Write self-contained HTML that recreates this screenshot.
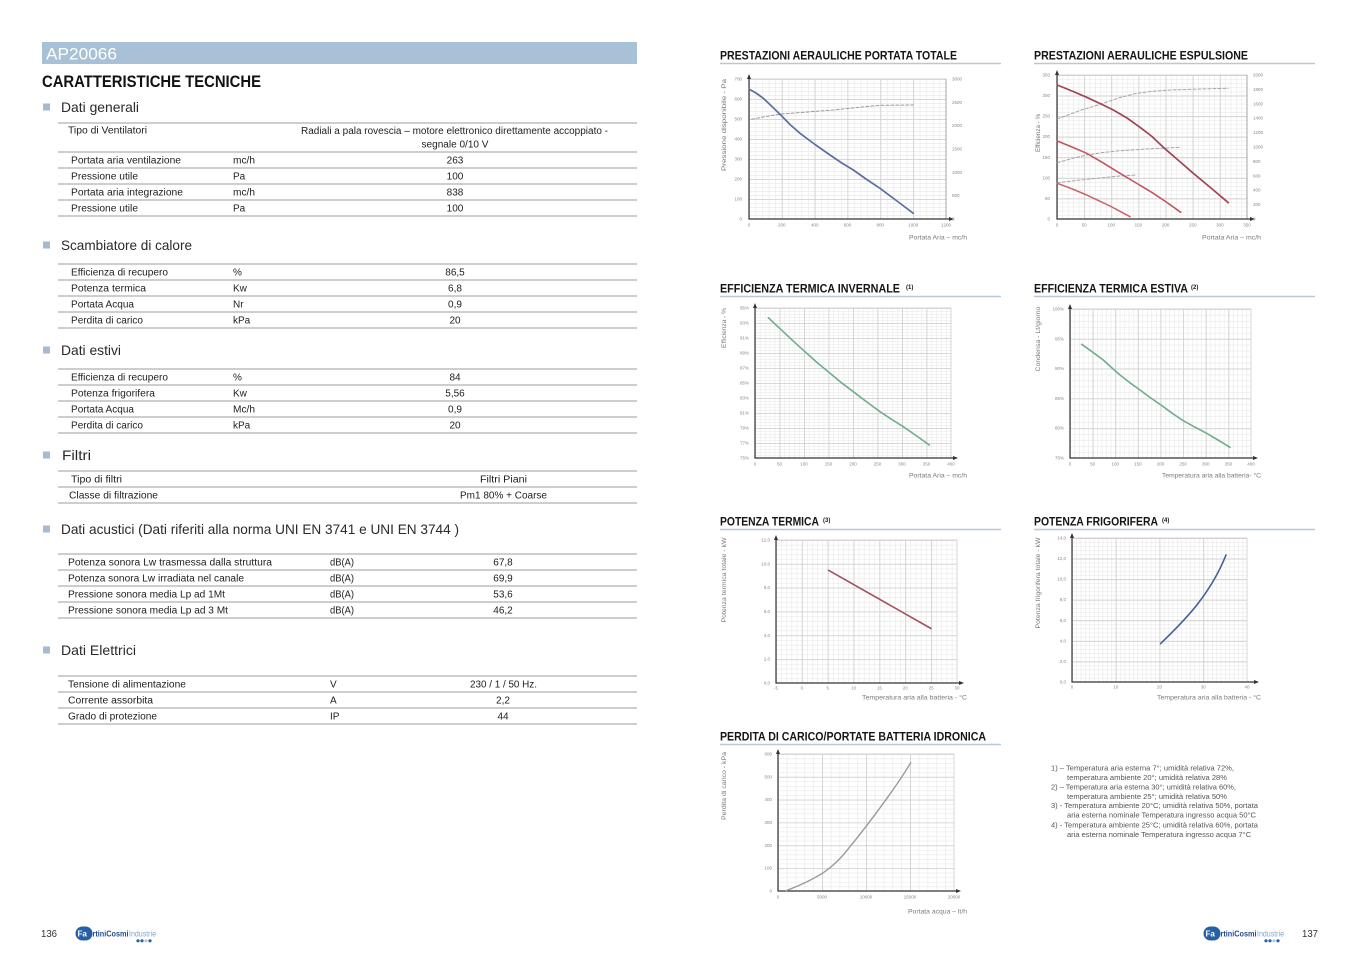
<!DOCTYPE html>
<html><head><meta charset="utf-8"><style>html,body{margin:0;padding:0;background:#fff}svg{display:block}</style></head><body>
<svg xmlns="http://www.w3.org/2000/svg" width="1356" height="959" viewBox="0 0 1356 959" font-family="'Liberation Sans', sans-serif">
<defs>
<pattern id="m1" x="749" y="79" width="6.567" height="4" patternUnits="userSpaceOnUse"><path d="M0.3 0V4M0 0.3H6.567" stroke="#e8e8e8" stroke-width="0.6" fill="none"/></pattern>
<pattern id="M1" x="749" y="79" width="32.83" height="20" patternUnits="userSpaceOnUse"><path d="M0.4 0V20M0 0.4H32.83" stroke="#cdcdcd" stroke-width="0.8" fill="none"/></pattern>
<pattern id="m2" x="1057" y="75" width="5.428" height="4.114" patternUnits="userSpaceOnUse"><path d="M0.3 0V4.114M0 0.3H5.428" stroke="#e8e8e8" stroke-width="0.6" fill="none"/></pattern>
<pattern id="M2" x="1057" y="75" width="27.14" height="20.57" patternUnits="userSpaceOnUse"><path d="M0.4 0V20.57M0 0.4H27.14" stroke="#cdcdcd" stroke-width="0.8" fill="none"/></pattern>
<pattern id="m3" x="755" y="308" width="4.9" height="3" patternUnits="userSpaceOnUse"><path d="M0.3 0V3M0 0.3H4.9" stroke="#eaeaea" stroke-width="0.6" fill="none"/></pattern>
<pattern id="M3" x="755" y="308" width="24.5" height="15" patternUnits="userSpaceOnUse"><path d="M0.4 0V15M0 0.4H24.5" stroke="#cdcdcd" stroke-width="0.8" fill="none"/></pattern>
<pattern id="m4" x="1070" y="309" width="4.525" height="5.96" patternUnits="userSpaceOnUse"><path d="M0.3 0V5.96M0 0.3H4.525" stroke="#e8e8e8" stroke-width="0.6" fill="none"/></pattern>
<pattern id="M4" x="1070" y="309" width="22.625" height="29.8" patternUnits="userSpaceOnUse"><path d="M0.4 0V29.8M0 0.4H22.625" stroke="#cdcdcd" stroke-width="0.8" fill="none"/></pattern>
<pattern id="m5" x="776" y="540" width="5.17" height="4.766" patternUnits="userSpaceOnUse"><path d="M0.3 0V4.766M0 0.3H5.17" stroke="#e8e8e8" stroke-width="0.6" fill="none"/></pattern>
<pattern id="M5" x="776" y="540" width="25.86" height="23.83" patternUnits="userSpaceOnUse"><path d="M0.4 0V23.83M0 0.4H25.86" stroke="#cdcdcd" stroke-width="0.8" fill="none"/></pattern>
<pattern id="m6" x="1072" y="538" width="4.375" height="4.114" patternUnits="userSpaceOnUse"><path d="M0.3 0V4.114M0 0.3H4.375" stroke="#e8e8e8" stroke-width="0.6" fill="none"/></pattern>
<pattern id="M6" x="1072" y="538" width="43.75" height="20.57" patternUnits="userSpaceOnUse"><path d="M0.4 0V20.57M0 0.4H43.75" stroke="#cdcdcd" stroke-width="0.8" fill="none"/></pattern>
<pattern id="m7" x="778" y="754" width="8.8" height="4.567" patternUnits="userSpaceOnUse"><path d="M0.3 0V4.567M0 0.3H8.8" stroke="#e8e8e8" stroke-width="0.6" fill="none"/></pattern>
<pattern id="M7" x="778" y="754" width="44" height="22.83" patternUnits="userSpaceOnUse"><path d="M0.4 0V22.83M0 0.4H44" stroke="#cdcdcd" stroke-width="0.8" fill="none"/></pattern>
</defs>

<!-- ================= LEFT PAGE ================= -->
<rect x="42" y="42" width="595" height="22" fill="#a9c1d7"/>
<text x="46" y="59.5" font-size="17" fill="#ffffff" textLength="71" lengthAdjust="spacingAndGlyphs">AP20066</text>
<text x="42" y="87" font-size="16.5" font-weight="bold" fill="#111" textLength="219" lengthAdjust="spacingAndGlyphs">CARATTERISTICHE TECNICHE</text>

<g fill="#a6bad0">
<rect x="43" y="103.5" width="7" height="7"/>
<rect x="43" y="241.5" width="7" height="7"/>
<rect x="43" y="346.5" width="7" height="7"/>
<rect x="43" y="451.5" width="7" height="7"/>
<rect x="43" y="525.5" width="7" height="7"/>
<rect x="43" y="646.5" width="7" height="7"/>
</g>
<g font-size="14" fill="#2a2a2a">
<text x="61" y="112" textLength="78" lengthAdjust="spacingAndGlyphs">Dati generali</text>
<text x="61" y="250" textLength="131" lengthAdjust="spacingAndGlyphs">Scambiatore di calore</text>
<text x="61" y="355" textLength="60" lengthAdjust="spacingAndGlyphs">Dati estivi</text>
<text x="62" y="460" textLength="29" lengthAdjust="spacingAndGlyphs">Filtri</text>
<text x="61" y="534" textLength="398" lengthAdjust="spacingAndGlyphs">Dati acustici (Dati riferiti alla norma UNI EN  3741 e UNI EN 3744 )</text>
<text x="61" y="655" textLength="75" lengthAdjust="spacingAndGlyphs">Dati Elettrici</text>
</g>

<!-- table rules -->
<g stroke="#bdbdbd" stroke-width="1.6">
<line x1="58" y1="123" x2="637" y2="123"/><line x1="58" y1="152" x2="637" y2="152"/><line x1="58" y1="168" x2="637" y2="168"/><line x1="58" y1="184" x2="637" y2="184"/><line x1="58" y1="200" x2="637" y2="200"/><line x1="58" y1="216" x2="637" y2="216"/>
<line x1="58" y1="264" x2="637" y2="264"/><line x1="58" y1="280" x2="637" y2="280"/><line x1="58" y1="296" x2="637" y2="296"/><line x1="58" y1="312" x2="637" y2="312"/><line x1="58" y1="328" x2="637" y2="328"/>
<line x1="58" y1="369" x2="637" y2="369"/><line x1="58" y1="385" x2="637" y2="385"/><line x1="58" y1="401" x2="637" y2="401"/><line x1="58" y1="417" x2="637" y2="417"/><line x1="58" y1="433" x2="637" y2="433"/>
<line x1="58" y1="471" x2="637" y2="471"/><line x1="58" y1="487" x2="637" y2="487"/><line x1="58" y1="503" x2="637" y2="503"/>
<line x1="58" y1="554" x2="637" y2="554"/><line x1="58" y1="570" x2="637" y2="570"/><line x1="58" y1="586" x2="637" y2="586"/><line x1="58" y1="602" x2="637" y2="602"/><line x1="58" y1="618" x2="637" y2="618"/>
<line x1="58" y1="676" x2="637" y2="676"/><line x1="58" y1="692" x2="637" y2="692"/><line x1="58" y1="708" x2="637" y2="708"/><line x1="58" y1="724" x2="637" y2="724"/>
</g>

<g font-size="10" fill="#1e1e1e">
<!-- generali -->
<text x="68" y="133.5" textLength="79" lengthAdjust="spacingAndGlyphs">Tipo di Ventilatori</text>
<text x="454.5" y="134" text-anchor="middle" textLength="307" lengthAdjust="spacingAndGlyphs">Radiali a pala rovescia – motore elettronico direttamente accoppiato -</text>
<text x="455" y="147.3" text-anchor="middle" textLength="67" lengthAdjust="spacingAndGlyphs">segnale  0/10 V</text>
<text x="71" y="163.5" textLength="110" lengthAdjust="spacingAndGlyphs">Portata aria ventilazione</text><text x="233" y="163.5" textLength="22" lengthAdjust="spacingAndGlyphs">mc/h</text><text x="455" y="163.5" text-anchor="middle">263</text>
<text x="71" y="179.5" textLength="67" lengthAdjust="spacingAndGlyphs">Pressione utile</text><text x="233" y="179.5">Pa</text><text x="455" y="179.5" text-anchor="middle">100</text>
<text x="71" y="195.5" textLength="112" lengthAdjust="spacingAndGlyphs">Portata aria integrazione</text><text x="233" y="195.5" textLength="22" lengthAdjust="spacingAndGlyphs">mc/h</text><text x="455" y="195.5" text-anchor="middle">838</text>
<text x="71" y="211.5" textLength="67" lengthAdjust="spacingAndGlyphs">Pressione utile</text><text x="233" y="211.5">Pa</text><text x="455" y="211.5" text-anchor="middle">100</text>
<!-- scambiatore -->
<text x="71" y="275.5" textLength="97" lengthAdjust="spacingAndGlyphs">Efficienza di recupero</text><text x="233" y="275.5">%</text><text x="455" y="275.5" text-anchor="middle">86,5</text>
<text x="71" y="291.5" textLength="75" lengthAdjust="spacingAndGlyphs">Potenza termica</text><text x="233" y="291.5">Kw</text><text x="455" y="291.5" text-anchor="middle">6,8</text>
<text x="71" y="307.5" textLength="63" lengthAdjust="spacingAndGlyphs">Portata Acqua</text><text x="233" y="307.5">Nr</text><text x="455" y="307.5" text-anchor="middle">0,9</text>
<text x="71" y="323.5" textLength="72" lengthAdjust="spacingAndGlyphs">Perdita di carico</text><text x="233" y="323.5">kPa</text><text x="455" y="323.5" text-anchor="middle">20</text>
<!-- estivi -->
<text x="71" y="380.5" textLength="97" lengthAdjust="spacingAndGlyphs">Efficienza di recupero</text><text x="233" y="380.5">%</text><text x="455" y="380.5" text-anchor="middle">84</text>
<text x="71" y="396.5" textLength="84" lengthAdjust="spacingAndGlyphs">Potenza frigorifera</text><text x="233" y="396.5">Kw</text><text x="455" y="396.5" text-anchor="middle">5,56</text>
<text x="71" y="412.5" textLength="63" lengthAdjust="spacingAndGlyphs">Portata Acqua</text><text x="233" y="412.5" textLength="22" lengthAdjust="spacingAndGlyphs">Mc/h</text><text x="455" y="412.5" text-anchor="middle">0,9</text>
<text x="71" y="428.5" textLength="72" lengthAdjust="spacingAndGlyphs">Perdita di carico</text><text x="233" y="428.5">kPa</text><text x="455" y="428.5" text-anchor="middle">20</text>
<!-- filtri -->
<text x="71" y="482.5" textLength="51" lengthAdjust="spacingAndGlyphs">Tipo di filtri</text><text x="503.5" y="482.5" text-anchor="middle" textLength="47" lengthAdjust="spacingAndGlyphs">Filtri Piani</text>
<text x="69" y="498.5" textLength="89" lengthAdjust="spacingAndGlyphs">Classe di filtrazione</text><text x="503.5" y="498.5" text-anchor="middle" textLength="87" lengthAdjust="spacingAndGlyphs">Pm1  80% + Coarse</text>
<!-- acustici -->
<text x="68" y="565.5" textLength="204" lengthAdjust="spacingAndGlyphs">Potenza sonora Lw trasmessa dalla struttura</text><text x="330" y="565.5" textLength="24" lengthAdjust="spacingAndGlyphs">dB(A)</text><text x="503" y="565.5" text-anchor="middle">67,8</text>
<text x="68" y="581.5" textLength="176" lengthAdjust="spacingAndGlyphs">Potenza sonora Lw irradiata nel canale</text><text x="330" y="581.5" textLength="24" lengthAdjust="spacingAndGlyphs">dB(A)</text><text x="503" y="581.5" text-anchor="middle">69,9</text>
<text x="68" y="597.5" textLength="157" lengthAdjust="spacingAndGlyphs">Pressione sonora media Lp ad 1Mt</text><text x="330" y="597.5" textLength="24" lengthAdjust="spacingAndGlyphs">dB(A)</text><text x="503" y="597.5" text-anchor="middle">53,6</text>
<text x="68" y="613.5" textLength="160" lengthAdjust="spacingAndGlyphs">Pressione sonora media Lp ad 3 Mt</text><text x="330" y="613.5" textLength="24" lengthAdjust="spacingAndGlyphs">dB(A)</text><text x="503" y="613.5" text-anchor="middle">46,2</text>
<!-- elettrici -->
<text x="68" y="687.5" textLength="118" lengthAdjust="spacingAndGlyphs">Tensione di alimentazione</text><text x="330" y="687.5">V</text><text x="503.5" y="687.5" text-anchor="middle" textLength="67" lengthAdjust="spacingAndGlyphs">230 / 1 / 50 Hz.</text>
<text x="68" y="703.5" textLength="85" lengthAdjust="spacingAndGlyphs">Corrente assorbita</text><text x="330" y="703.5">A</text><text x="503" y="703.5" text-anchor="middle">2,2</text>
<text x="68" y="719.5" textLength="89" lengthAdjust="spacingAndGlyphs">Grado di protezione</text><text x="330" y="719.5">IP</text><text x="503" y="719.5" text-anchor="middle">44</text>
</g>

<!-- footer left -->
<text x="41" y="937" font-size="10" fill="#333" textLength="16" lengthAdjust="spacingAndGlyphs">136</text>
<g>
<rect x="75.5" y="926.5" width="17" height="14" rx="7" fill="#2461a8"/>
<text x="77.5" y="936.5" font-size="8" font-weight="bold" fill="#fff">Fa</text>
<text x="92.5" y="936.5" font-size="8" font-weight="bold" fill="#1f4e8c" textLength="36" lengthAdjust="spacingAndGlyphs">rtiniCosmi</text>
<text x="129" y="936.5" font-size="8" fill="#7aa7d3" textLength="27" lengthAdjust="spacingAndGlyphs">Industrie</text>
<circle cx="138" cy="940.8" r="1.6" fill="#2461a8"/><circle cx="142" cy="940.8" r="1.6" fill="#2461a8"/><circle cx="146" cy="940.8" r="1.6" fill="#b8c8d8"/><circle cx="150" cy="940.8" r="1.6" fill="#2461a8"/>
</g>

<!-- ================= RIGHT PAGE ================= -->
<g font-weight="bold" fill="#151515" font-size="12.3">
<text x="720" y="59.3" textLength="237" lengthAdjust="spacingAndGlyphs">PRESTAZIONI AERAULICHE PORTATA TOTALE</text>
<text x="1034" y="59.3" textLength="214" lengthAdjust="spacingAndGlyphs">PRESTAZIONI AERAULICHE ESPULSIONE</text>
<text x="720" y="292.3" textLength="180" lengthAdjust="spacingAndGlyphs">EFFICIENZA TERMICA INVERNALE</text>
<text x="906" y="289" font-size="6">(1)</text>
<text x="1034" y="292.3" textLength="154" lengthAdjust="spacingAndGlyphs">EFFICIENZA TERMICA ESTIVA</text>
<text x="1191" y="289" font-size="6">(2)</text>
<text x="720" y="525.3" textLength="99" lengthAdjust="spacingAndGlyphs">POTENZA TERMICA</text>
<text x="823" y="522" font-size="6">(3)</text>
<text x="1034" y="525.3" textLength="124" lengthAdjust="spacingAndGlyphs">POTENZA FRIGORIFERA</text>
<text x="1162" y="522" font-size="6">(4)</text>
<text x="720" y="740.3" textLength="266" lengthAdjust="spacingAndGlyphs">PERDITA DI CARICO/PORTATE BATTERIA IDRONICA</text>
</g>
<g stroke="#b8c8d8" stroke-width="1.5">
<line x1="720" y1="63.5" x2="1001" y2="63.5"/><line x1="1034" y1="63.5" x2="1315" y2="63.5"/>
<line x1="720" y1="296.5" x2="1001" y2="296.5"/><line x1="1034" y1="296.5" x2="1315" y2="296.5"/>
<line x1="720" y1="529.5" x2="1001" y2="529.5"/><line x1="1034" y1="529.5" x2="1315" y2="529.5"/>
<line x1="720" y1="744.5" x2="1001" y2="744.5"/>
</g>

<!-- grids -->
<rect x="749" y="79" width="197" height="140" fill="url(#m1)"/><rect x="749" y="79" width="197" height="140" fill="url(#M1)" stroke="#cdcdcd" stroke-width="0.8"/>
<rect x="1057" y="75" width="190" height="144" fill="url(#m2)"/><rect x="1057" y="75" width="190" height="144" fill="url(#M2)" stroke="#cdcdcd" stroke-width="0.8"/>
<rect x="755" y="308" width="196" height="150" fill="url(#m3)"/><rect x="755" y="308" width="196" height="150" fill="url(#M3)" stroke="#cdcdcd" stroke-width="0.8"/>
<rect x="1070" y="309" width="181" height="149" fill="url(#m4)"/><rect x="1070" y="309" width="181" height="149" fill="url(#M4)" stroke="#cdcdcd" stroke-width="0.8"/>
<rect x="776" y="540" width="181" height="143" fill="url(#m5)"/><rect x="776" y="540" width="181" height="143" fill="url(#M5)" stroke="#cdcdcd" stroke-width="0.8"/>
<rect x="1072" y="538" width="175" height="144" fill="url(#m6)"/><rect x="1072" y="538" width="175" height="144" fill="url(#M6)" stroke="#cdcdcd" stroke-width="0.8"/>
<rect x="778" y="754" width="176" height="137" fill="url(#m7)"/><rect x="778" y="754" width="176" height="137" fill="url(#M7)" stroke="#cdcdcd" stroke-width="0.8"/>

<!-- right secondary axes -->
<g stroke="#999" stroke-width="0.8">
<line x1="946" y1="79" x2="946" y2="219"/><line x1="1247" y1="75" x2="1247" y2="219"/>
</g>

<!-- main axes -->
<g stroke="#333" stroke-width="1.2" fill="none">
<path d="M749 77V219H951"/>
<path d="M1057 73V219H1252"/>
<path d="M755 306V458H955"/>
<path d="M1070 307V458H1255"/>
<path d="M776 538V683H961"/>
<path d="M1072 536V682H1256"/>
<path d="M778 752V891H958"/>
</g>
<g fill="#333">
<path d="M747 79L749 74L751 79Z"/><path d="M949 217L954 219L949 221Z"/>
<path d="M1055 75L1057 70L1059 75Z"/><path d="M1250 217L1255 219L1250 221Z"/>
<path d="M753 308L755 303L757 308Z"/><path d="M953 456L958 458L953 460Z"/>
<path d="M1068 309L1070 304L1072 309Z"/><path d="M1253 456L1258 458L1253 460Z"/>
<path d="M774 540L776 535L778 540Z"/><path d="M959 681L964 683L959 685Z"/>
<path d="M1070 538L1072 533L1074 538Z"/><path d="M1254 680L1259 682L1254 684Z"/>
<path d="M776 754L778 749L780 754Z"/><path d="M956 889L961 891L956 893Z"/>
</g>

<!-- tick labels -->
<g font-size="4.5" fill="#888">
<g text-anchor="end">
<text x="742" y="80.5">700</text><text x="742" y="100.5">600</text><text x="742" y="120.5">500</text><text x="742" y="140.5">400</text><text x="742" y="160.5">300</text><text x="742" y="180.5">200</text><text x="742" y="200.5">100</text><text x="742" y="220.5">0</text>
</g>
<text x="952" y="80.5">3000</text><text x="952" y="103.8">2500</text><text x="952" y="127.2">2000</text><text x="952" y="150.5">1500</text><text x="952" y="173.8">1000</text><text x="952" y="197.2">500</text><text x="952" y="220.5">0</text>
<g text-anchor="middle">
<text x="749" y="226.5">0</text><text x="781.8" y="226.5">200</text><text x="814.7" y="226.5">400</text><text x="847.5" y="226.5">600</text><text x="880.3" y="226.5">800</text><text x="913.2" y="226.5">1000</text><text x="946" y="226.5">1200</text>
</g>
<g text-anchor="end">
<text x="1050" y="76.5">350</text><text x="1050" y="97.1">300</text><text x="1050" y="117.6">250</text><text x="1050" y="138.2">200</text><text x="1050" y="158.8">150</text><text x="1050" y="179.4">100</text><text x="1050" y="199.9">50</text><text x="1050" y="220.5">0</text>
</g>
<text x="1253" y="76.5">2000</text><text x="1253" y="90.9">1800</text><text x="1253" y="105.3">1600</text><text x="1253" y="119.7">1400</text><text x="1253" y="134.1">1200</text><text x="1253" y="148.5">1000</text><text x="1253" y="162.9">800</text><text x="1253" y="177.3">600</text><text x="1253" y="191.7">400</text><text x="1253" y="206.1">200</text><text x="1253" y="220.5">0</text>
<g text-anchor="middle">
<text x="1057" y="226.5">0</text><text x="1084.1" y="226.5">50</text><text x="1111.3" y="226.5">100</text><text x="1138.4" y="226.5">150</text><text x="1165.6" y="226.5">200</text><text x="1192.7" y="226.5">250</text><text x="1219.9" y="226.5">300</text><text x="1247" y="226.5">350</text>
</g>
<g text-anchor="end">
<text x="749" y="309.5">95%</text><text x="749" y="324.5">93%</text><text x="749" y="339.5">91%</text><text x="749" y="354.5">89%</text><text x="749" y="369.5">87%</text><text x="749" y="384.5">85%</text><text x="749" y="399.5">83%</text><text x="749" y="414.5">81%</text><text x="749" y="429.5">79%</text><text x="749" y="444.5">77%</text><text x="749" y="459.5">75%</text>
</g>
<g text-anchor="middle">
<text x="755" y="465.5">0</text><text x="779.5" y="465.5">50</text><text x="804" y="465.5">100</text><text x="828.5" y="465.5">150</text><text x="853" y="465.5">200</text><text x="877.5" y="465.5">250</text><text x="902" y="465.5">300</text><text x="926.5" y="465.5">350</text><text x="951" y="465.5">400</text>
</g>
<g text-anchor="end">
<text x="1064" y="310.5">100%</text><text x="1064" y="340.3">95%</text><text x="1064" y="370.1">90%</text><text x="1064" y="399.9">85%</text><text x="1064" y="429.7">80%</text><text x="1064" y="459.5">75%</text>
</g>
<g text-anchor="middle">
<text x="1070" y="465.5">0</text><text x="1092.6" y="465.5">50</text><text x="1115.3" y="465.5">100</text><text x="1137.9" y="465.5">150</text><text x="1160.5" y="465.5">200</text><text x="1183.1" y="465.5">250</text><text x="1205.8" y="465.5">300</text><text x="1228.4" y="465.5">350</text><text x="1251" y="465.5">400</text>
</g>
<g text-anchor="end">
<text x="770" y="541.5">12,0</text><text x="770" y="565.3">10,0</text><text x="770" y="589.2">8,0</text><text x="770" y="613">6,0</text><text x="770" y="636.8">4,0</text><text x="770" y="660.7">2,0</text><text x="770" y="684.5">0,0</text>
</g>
<g text-anchor="middle">
<text x="776" y="689.5">-5</text><text x="801.9" y="689.5">0</text><text x="827.7" y="689.5">5</text><text x="853.6" y="689.5">10</text><text x="879.4" y="689.5">15</text><text x="905.3" y="689.5">20</text><text x="931.1" y="689.5">25</text><text x="957" y="689.5">30</text>
</g>
<g text-anchor="end">
<text x="1066" y="539.5">14,0</text><text x="1066" y="560.1">12,0</text><text x="1066" y="580.6">10,0</text><text x="1066" y="601.2">8,0</text><text x="1066" y="621.8">6,0</text><text x="1066" y="642.4">4,0</text><text x="1066" y="662.9">2,0</text><text x="1066" y="683.5">0,0</text>
</g>
<g text-anchor="middle">
<text x="1072" y="688.5">0</text><text x="1115.8" y="688.5">10</text><text x="1159.5" y="688.5">20</text><text x="1203.3" y="688.5">30</text><text x="1247" y="688.5">40</text>
</g>
<g text-anchor="end">
<text x="772" y="755.5">600</text><text x="772" y="778.3">500</text><text x="772" y="801.2">400</text><text x="772" y="824">300</text><text x="772" y="846.8">200</text><text x="772" y="869.7">100</text><text x="772" y="892.5">0</text>
</g>
<g text-anchor="middle">
<text x="778" y="898.5">0</text><text x="822" y="898.5">5000</text><text x="866" y="898.5">10000</text><text x="910" y="898.5">15000</text><text x="954" y="898.5">20000</text>
</g>
</g>

<!-- axis titles -->
<g font-size="6.5" fill="#7a7a7a">
<text transform="translate(726 125) rotate(-90)" text-anchor="middle" textLength="92" lengthAdjust="spacingAndGlyphs">Pressione disponibile - Pa</text>
<text x="909" y="239.5" textLength="58" lengthAdjust="spacingAndGlyphs">Portata Aria – mc/h</text>
<text transform="translate(1040 133) rotate(-90)" text-anchor="middle" textLength="38" lengthAdjust="spacingAndGlyphs">Efficienza - %</text>
<text x="1202" y="239.5" textLength="59" lengthAdjust="spacingAndGlyphs">Portata Aria – mc/h</text>
<text transform="translate(726 328) rotate(-90)" text-anchor="middle" textLength="40" lengthAdjust="spacingAndGlyphs">Efficienza - %</text>
<text x="909" y="477.5" textLength="58" lengthAdjust="spacingAndGlyphs">Portata Aria – mc/h</text>
<text transform="translate(1040 339) rotate(-90)" text-anchor="middle" textLength="65" lengthAdjust="spacingAndGlyphs">Condensa - Lt/giorno</text>
<text x="1162" y="477.5" textLength="99" lengthAdjust="spacingAndGlyphs">Temperatura aria alla batteria- °C</text>
<text transform="translate(726 580) rotate(-90)" text-anchor="middle" textLength="85" lengthAdjust="spacingAndGlyphs">Potenza termica totale - kW</text>
<text x="862" y="699.5" textLength="105" lengthAdjust="spacingAndGlyphs">Temperatura aria alla batteria - °C</text>
<text transform="translate(1040 583) rotate(-90)" text-anchor="middle" textLength="91" lengthAdjust="spacingAndGlyphs">Potenza frigorifera totale - kW</text>
<text x="1157" y="699.5" textLength="104" lengthAdjust="spacingAndGlyphs">Temperatura aria alla batteria - °C</text>
<text transform="translate(726 786) rotate(-90)" text-anchor="middle" textLength="68" lengthAdjust="spacingAndGlyphs">Perdita di carico - kPa</text>
<text x="908" y="913.5" textLength="59" lengthAdjust="spacingAndGlyphs">Portata acqua – lt/h</text>
</g>

<!-- series -->
<g fill="none" stroke-linejoin="round" stroke-linecap="round">
<polyline points="751.7,119.3 766,116.5 781.7,114 807,112 833.3,110 857,107.5 880,105.3 913.3,105" stroke="#9a9a9a" stroke-width="1" stroke-dasharray="3 2"/>
<polyline points="749.3,89.3 756,93 763.3,98.3 772,106.5 781.7,116 790,124.5 800,133.3 815,144.5 830,155 841,162.5 853.3,170 866,179 880,188.3 897,201 913.3,213.3" stroke="#5a6ea5" stroke-width="1.7"/>

<polyline points="1057.3,119 1080,110.5 1103.3,103.3 1120,97.5 1136.7,93.3 1152,91.3 1170,90 1200,89 1228.3,88.3" stroke="#a5a5a5" stroke-width="1" stroke-dasharray="3 2"/>
<polyline points="1057.3,162.7 1072,158.5 1086.7,155 1103,152.5 1120,150.7 1150,148.8 1180.7,147.3" stroke="#a5a5a5" stroke-width="1" stroke-dasharray="3 2"/>
<polyline points="1057.3,182.7 1086.7,179.3 1120,176 1136.7,175" stroke="#a5a5a5" stroke-width="1" stroke-dasharray="3 2"/>
<polyline points="1057.3,85 1072,91 1086.7,97.3 1100,103.5 1113.3,110 1127,118 1140,127.3 1152,136.5 1163.3,147.3 1178,160 1193.3,173.3 1211,188 1228.3,202.7" stroke="#a04553" stroke-width="1.7"/>
<polyline points="1057.3,141 1072,147 1086.7,153.3 1103,162.8 1120,173.3 1137,183.5 1153.3,193.3 1167,202.5 1180.7,212.3" stroke="#c2545f" stroke-width="1.6"/>
<polyline points="1057.3,183.3 1072,188.8 1086.7,195 1099,200.8 1110,206 1120,211.3 1130,216.7" stroke="#c9606a" stroke-width="1.5"/>

<polyline points="768.3,317.7 775.5,324.5 783.3,331.7 794,341.8 805,351.7 817,362.5 830,373.3 841.5,382.8 853.3,391.7 866.5,401.8 880,411.7 891.5,419.3 903.3,426.7 916,435.5 929.3,445" stroke="#6fae8a" stroke-width="1.6"/>
<polyline points="1081.7,344.3 1092,351.7 1103.3,360 1111.5,367.5 1120,375 1130,382.8 1140,390 1151.5,398.5 1163.3,406.7 1173,413.8 1183.3,420.7 1195,427.2 1206.7,433.3 1218,440 1230,447.3" stroke="#6fae8a" stroke-width="1.6"/>

<line x1="828.6" y1="570.3" x2="931" y2="628.5" stroke="#a3515f" stroke-width="1.6"/>
<path d="M1160.5,643.7 C1185,620 1210,595 1226,555" stroke="#3f5f9a" stroke-width="1.6"/>

<path d="M786,890.7 C800,885.5 812,880 823.3,872.7 C834,865.5 843,856 850,846.7 C862,832 873,817.5 883.3,803.3 C893,790 903,776 910.7,762.7" stroke="#9a9a9a" stroke-width="1.4"/>
</g>

<!-- notes -->
<g font-size="7.6" fill="#555">
<text x="1051" y="770.5" textLength="183" lengthAdjust="spacingAndGlyphs">1) – Temperatura aria esterna 7°; umidità relativa 72%,</text>
<text x="1067" y="780" textLength="160" lengthAdjust="spacingAndGlyphs">temperatura ambiente 20°; umidità relativa 28%</text>
<text x="1051" y="789.5" textLength="185" lengthAdjust="spacingAndGlyphs">2) – Temperatura aria esterna 30°; umidità relativa 60%,</text>
<text x="1067" y="799" textLength="160" lengthAdjust="spacingAndGlyphs">temperatura ambiente 25°; umidità relativa 50%</text>
<text x="1051" y="808" textLength="207" lengthAdjust="spacingAndGlyphs">3) - Temperatura ambiente 20°C; umidità relativa 50%, portata</text>
<text x="1067" y="817.5" textLength="189" lengthAdjust="spacingAndGlyphs">aria esterna nominale Temperatura ingresso acqua 50°C</text>
<text x="1051" y="827.5" textLength="207" lengthAdjust="spacingAndGlyphs">4) - Temperatura ambiente 25°C; umidità relativa 60%, portata</text>
<text x="1067" y="837" textLength="184" lengthAdjust="spacingAndGlyphs">aria esterna nominale Temperatura ingresso acqua 7°C</text>
</g>

<!-- footer right -->
<g>
<rect x="1203.5" y="926.5" width="17" height="14" rx="7" fill="#2461a8"/>
<text x="1205.5" y="936.5" font-size="8" font-weight="bold" fill="#fff">Fa</text>
<text x="1220.5" y="936.5" font-size="8" font-weight="bold" fill="#1f4e8c" textLength="36" lengthAdjust="spacingAndGlyphs">rtiniCosmi</text>
<text x="1257" y="936.5" font-size="8" fill="#7aa7d3" textLength="27" lengthAdjust="spacingAndGlyphs">Industrie</text>
<circle cx="1266" cy="940.8" r="1.6" fill="#2461a8"/><circle cx="1270" cy="940.8" r="1.6" fill="#2461a8"/><circle cx="1274" cy="940.8" r="1.6" fill="#b8c8d8"/><circle cx="1278" cy="940.8" r="1.6" fill="#2461a8"/>
</g>
<text x="1302" y="937" font-size="10" fill="#333" textLength="16" lengthAdjust="spacingAndGlyphs">137</text>
</svg>
</body></html>
